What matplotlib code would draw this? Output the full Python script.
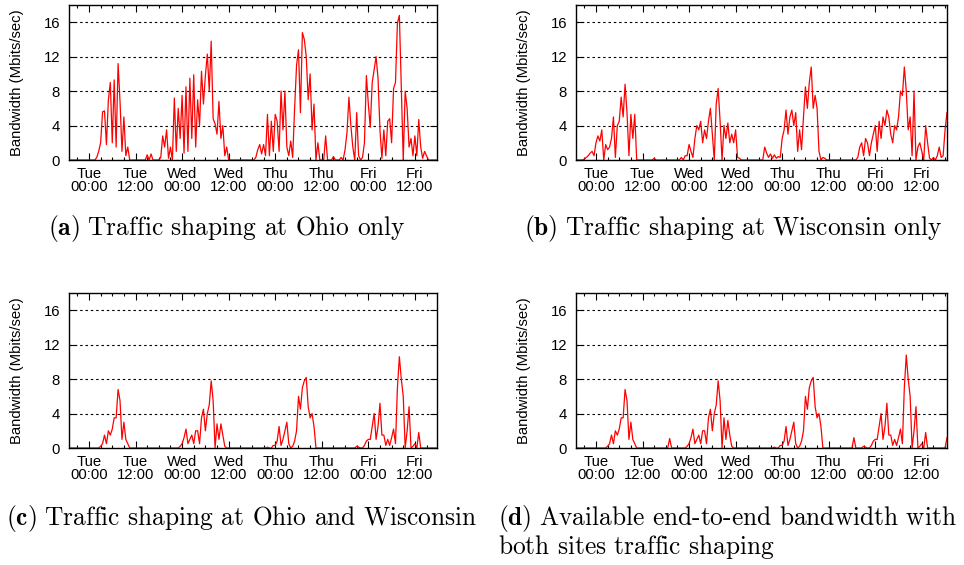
import numpy as np
import matplotlib.pyplot as plt
from matplotlib.ticker import MultipleLocator, FixedLocator

plt.rcParams['font.family'] = ['Liberation Sans', 'DejaVu Sans']
plt.rcParams['mathtext.fontset'] = 'cm'

# hours since Tue 00:00, one sample every 30 minutes
hours = np.arange(-5, 91, 0.5)

tick_hours = [0, 12, 24, 36, 48, 60, 72, 84]
tick_labels = ['Tue\n00:00', 'Tue\n12:00', 'Wed\n00:00', 'Wed\n12:00',
               'Thu\n00:00', 'Thu\n12:00', 'Fri\n00:00', 'Fri\n12:00']

# bandwidth in Mbits/sec
ohio_only = [
    0, 0, 0, 0, 0, 0, 0, 0, 0, 0,
    0, 0, 0, 0, 0.3, 1.0, 2.0, 5.6, 5.7, 1.8, 7.0, 9.0,
    2.0, 9.3, 1.5, 11.2, 6.8, 1.0, 5.0, 0.5, 1.5, 0, 0, 0,
    0, 0, 0, 0, 0, 0, 0.6, 0, 0.7, 0, 0, 0,
    0, 0.3, 2.8, 1.5, 3.5, 0.2, 1.5, 0, 7.2, 1.0, 6.0, 2.5,
    7.5, 0.8, 8.5, 1.0, 9.5, 2.5, 9.9, 1.5, 7.0, 4.0, 10.3, 6.5,
    9.8, 12.3, 8.0, 13.8, 4.8, 4.2, 3.0, 6.8, 2.5, 4.0, 0.5, 1.5,
    0, 0, 0, 0, 0, 0, 0, 0, 0, 0, 0, 0,
    0, 0, 0.3, 1.2, 1.8, 0.7, 1.8, 0.5, 5.3, 0.5, 4.5, 1.0,
    5.3, 4.5, 1.0, 8.0, 3.5, 8.0, 1.5, 0.5, 2.2, 0.3, 6.0, 11.0,
    12.8, 5.5, 14.8, 14.0, 12.0, 7.0, 10.0, 3.5, 6.5, 0, 2.0, 0,
    0, 0, 2.8, 0, 0, 0, 0.4, 0, 0, 0, 0.3, 0,
    1.2, 3.2, 7.3, 4.0, 1.5, 0, 5.5, 0.5, 0, 0.3, 2.0, 9.8,
    6.5, 3.8, 9.0, 10.5, 12.0, 9.5, 3.5, 0.2, 3.5, 0.5, 4.5, 4.8,
    2.0, 8.3, 9.0, 15.9, 16.8, 8.5, 0, 8.0, 6.0, 1.5, 2.5, 0.5,
    2.8, 0.5, 4.7, 1.5, 0.2, 1.0, 0.5, 0, 0, 0, 0, 0, 0, 0,
]

wisconsin_only = [
    0, 0, 0, 0, 0.1, 0.3, 0.5, 0.8, 1.0, 0.5,
    2.0, 2.8, 2.2, 3.5, 0, 1.8, 1.2, 1.5, 2.5, 5.0, 0.3, 4.0,
    4.5, 7.3, 5.0, 8.8, 5.5, 0.5, 5.3, 2.5, 5.3, 0, 0, 0,
    0, 0, 0, 0, 0, 0, 0.2, 0, 0, 0, 0, 0,
    0, 0, 0, 0, 0, 0, 0, 0, 0.3, 0, 0.5, 0.5,
    1.8, 1.0, 0.3, 2.5, 4.0, 3.5, 4.5, 2.0, 3.5, 2.5, 4.5, 6.0,
    3.0, 0, 6.5, 8.3, 4.5, 0, 4.0, 2.5, 4.3, 2.0, 3.0, 2.0,
    3.5, 0.3, 0.2, 0, 0, 0, 0, 0, 0, 0, 0, 0,
    0, 0, 0, 1.5, 0.8, 0.3, 0.7, 0.2, 0.6, 0.2, 0.4, 0.3,
    2.5, 3.5, 5.8, 3.0, 5.0, 5.8, 4.0, 5.5, 1.0, 3.5, 1.2, 5.0,
    8.5, 6.0, 9.0, 10.8, 6.0, 7.5, 6.0, 1.0, 0, 0.3, 0.2, 0,
    0, 0, 0, 0, 0, 0, 0, 0, 0, 0, 0, 0,
    0, 0, 0, 0.3, 1.5, 2.0, 0.5, 2.5, 2.0, 0.5, 2.0, 3.0,
    4.0, 1.0, 4.5, 2.5, 5.0, 4.0, 5.8, 5.0, 3.0, 2.0, 4.0, 3.5,
    5.0, 8.0, 7.5, 10.8, 8.0, 3.5, 5.0, 0.5, 8.0, 0, 1.5, 2.0,
    1.0, 0, 4.0, 2.0, 0.2, 0, 0.3, 0, 0.5, 1.5, 0.3, 0.5, 3.5, 5.5,
]

ohio_and_wisconsin = [
    0, 0, 0, 0, 0, 0, 0, 0, 0, 0,
    0, 0, 0, 0, 0, 0, 0.2, 0.5, 1.5, 0.5, 2.0, 1.5,
    2.2, 3.5, 3.5, 6.8, 5.5, 1.0, 3.0, 1.0, 0.5, 0, 0, 0,
    0, 0, 0, 0, 0, 0, 0, 0, 0, 0, 0, 0,
    0, 0, 0, 0, 0, 0, 0, 0, 0, 0, 0, 0.2,
    0.5, 1.2, 2.2, 0.5, 1.0, 1.5, 0.5, 2.0, 2.0, 0.5, 3.5, 4.5,
    2.0, 4.0, 5.0, 7.8, 5.5, 0, 2.8, 1.0, 2.8, 1.5, 0.2, 0,
    0, 0, 0, 0, 0, 0, 0, 0, 0, 0, 0, 0,
    0, 0, 0, 0, 0, 0, 0, 0, 0.1, 0, 0, 0.3,
    0.3, 0.8, 2.5, 0.3, 1.0, 2.0, 3.0, 0.5, 0, 0.2, 0.8, 2.0,
    6.0, 4.5, 7.0, 7.8, 8.2, 4.8, 3.5, 4.0, 2.5, 0, 0, 0,
    0, 0, 0, 0, 0, 0, 0, 0, 0, 0, 0, 0,
    0, 0, 0, 0, 0, 0, 0.2, 0.1, 0, 0, 0.3, 0.8,
    1.0, 1.0, 2.5, 4.0, 1.0, 2.5, 5.2, 1.5, 1.5, 0.3, 1.0, 0.3,
    1.2, 2.2, 0.5, 7.0, 10.6, 8.0, 6.0, 0, 2.0, 4.8, 0, 0.2,
    0.5, 0, 1.8, 0, 0, 0, 0, 0, 0, 0, 0, 0, 0, 0,
]

end_to_end = [
    0, 0, 0, 0, 0, 0, 0, 0, 0, 0,
    0, 0, 0, 0, 0, 0, 0.2, 0.5, 1.5, 0.5, 2.0, 1.5,
    2.2, 3.5, 3.5, 6.8, 5.5, 1.0, 3.0, 1.0, 0.5, 0, 0, 0,
    0, 0, 0, 0, 0, 0, 0, 0, 0, 0, 0, 0,
    0, 0, 1.1, 0, 0, 0, 0, 0, 0, 0, 0, 0.2,
    0.5, 1.2, 2.2, 0.5, 1.0, 1.5, 0.5, 2.0, 2.0, 0.5, 3.5, 4.5,
    2.0, 4.0, 5.0, 7.8, 5.5, 0, 3.5, 1.0, 3.2, 1.5, 0.2, 0,
    0, 0, 0, 0, 0, 0, 0, 0, 0, 0, 0, 0,
    0, 0, 0, 0, 0, 0, 0, 0, 0.1, 0, 0, 0.3,
    0.3, 0.8, 2.5, 0.3, 1.0, 2.0, 3.0, 0.5, 0, 0.2, 0.8, 2.0,
    6.0, 4.5, 7.0, 7.8, 8.2, 4.8, 3.5, 4.0, 2.5, 0, 0, 0,
    0, 0, 0, 0, 0, 0, 0, 0, 0, 0, 0, 0,
    0, 1.2, 0, 0, 0, 0, 0.2, 0.1, 0, 0, 0.3, 0.8,
    1.0, 1.0, 2.5, 4.0, 1.0, 2.5, 5.2, 1.5, 1.5, 0.3, 1.0, 0.3,
    1.2, 2.2, 0.5, 7.0, 10.8, 8.0, 6.0, 0, 2.0, 4.8, 0, 0.2,
    0.5, 0, 1.8, 0, 0, 0, 0, 0, 0, 0, 0, 0, 0, 1.2,
]

W, H = 964, 565
fig = plt.figure(figsize=(W / 100, H / 100), dpi=100)


def box(x0, y0, x1, y1):
    # pixel box (top-left origin) -> figure fraction rect
    return [x0 / W, 1 - y1 / H, (x1 - x0) / W, (y1 - y0) / H]


panels = [
    (ohio_only, box(69, 5, 437, 160), 89.7),
    (wisconsin_only, box(576, 5, 947, 160), 90.5),
    (ohio_and_wisconsin, box(69, 293, 437, 448), 89.7),
    (end_to_end, box(576, 293, 947, 448), 90.5),
]

for values, rect, xmax in panels:
    ax = fig.add_axes(rect)
    ax.plot(hours, values, color='red', linewidth=0.9)
    ax.set_xlim(-5.15, xmax)
    ax.set_ylim(0, 18)
    ax.set_yticks([0, 4, 8, 12, 16])
    ax.xaxis.set_major_locator(FixedLocator(tick_hours))
    ax.set_xticklabels(tick_labels, linespacing=0.95)
    ax.xaxis.set_minor_locator(MultipleLocator(3))
    ax.tick_params(which='both', direction='in', top=True, right=True,
                   labelsize=10.7, width=0.8)
    ax.tick_params(which='major', length=5)
    ax.tick_params(which='minor', length=2.5)
    ax.tick_params(axis='x', pad=5)
    ax.tick_params(axis='y', pad=6.5)
    ax.yaxis.grid(True, color='black', linestyle=(0, (2.2, 2.6)), linewidth=0.8)
    for s in ax.spines.values():
        s.set_linewidth(1.0)
    ax.set_ylabel('Bandwidth (Mbits/sec)', fontsize=10.7)
    ax.yaxis.set_label_coords(-0.122, 0.5)

cap = dict(fontsize=18.3, va='center')
fig.text(48 / W, 1 - 228 / H,
         r'$\mathbf{(a)}\ \text{Traffic shaping at Ohio only}$', ha='left', **cap)
fig.text(524 / W, 1 - 228 / H,
         r'$\mathbf{(b)}\ \text{Traffic shaping at Wisconsin only}$', ha='left', **cap)
fig.text(477 / W, 1 - 519 / H,
         r'$\mathbf{(c)}\ \text{Traffic shaping at Ohio and Wisconsin}$', ha='right', **cap)
fig.text(498 / W, 1 - 519 / H,
         r'$\mathbf{(d)}\ \text{Available end-to-end bandwidth with}$', ha='left', **cap)
fig.text(498 / W, 1 - 547 / H,
         r'$\text{both sites traffic shaping}$', ha='left', **cap)

fig.savefig('out.png', dpi=100)
